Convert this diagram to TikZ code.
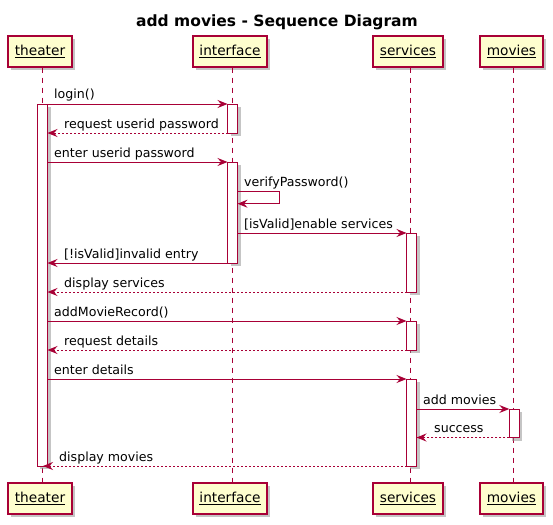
\documentclass[tikz,border=0pt]{standalone}
\usepackage{fontspec}
\setmainfont{DejaVu Sans}
\usetikzlibrary{arrows.meta,shadows}
\definecolor{pu}{HTML}{A80036}
\definecolor{pfill}{HTML}{FEFECE}
\begin{document}
\begin{tikzpicture}[x=1pt,y=-1pt,
  shad/.style={drop shadow={shadow xshift=3pt,shadow yshift=-3pt,fill=black!45,opacity=0.5}},
  part/.style={draw=pu,line width=1.2pt,fill=pfill,inner sep=0pt,minimum height=31pt,shad,
    font=\fontsize{13.7}{16}\selectfont},
  act/.style={draw=pu,line width=1pt,fill=white,shad},
  life/.style={draw=pu,line width=1pt,dash pattern=on 5pt off 5pt},
  msg/.style={draw=pu,line width=1pt,-{Stealth[length=10pt,width=8pt,inset=3.5pt]}},
  ret/.style={msg,dash pattern=on 2pt off 2pt},
  lbl/.style={font=\fontsize{12.6}{15}\selectfont,anchor=base west,inner sep=0pt},
  ttl/.style={font=\bfseries\fontsize{15.5}{18}\selectfont,anchor=base,inner sep=0pt}]
\useasboundingbox (0,0) rectangle (553,524);
\fill[white] (0,0) rectangle (553,524);
\node[ttl] (title) at (277,26.5) {add movies - Sequence Diagram};
% participants
\node[part,minimum width=64pt] (tT) at (40,51.5) {\underline{theater}};
\node[part,minimum width=74pt] (tI) at (230,51.5) {\underline{interface}};
\node[part,minimum width=70pt] (tS) at (408,51.5) {\underline{services}};
\node[part,minimum width=63pt] (tM) at (511.5,51.5) {\underline{movies}};
\node[part,minimum width=64pt] (bT) at (40,498.5) {\underline{theater}};
\node[part,minimum width=74pt] (bI) at (230,498.5) {\underline{interface}};
\node[part,minimum width=70pt] (bS) at (408,498.5) {\underline{services}};
\node[part,minimum width=63pt] (bM) at (511.5,498.5) {\underline{movies}};
% lifelines
\draw[life] ([xshift=2pt]tT.south) -- ([xshift=2pt]bT.north);
\draw[life] ([xshift=2pt]tI.south) -- ([xshift=2pt]bI.north);
\draw[life] ([xshift=2pt]tS.south) -- ([xshift=2pt]bS.north);
\draw[life] ([xshift=2pt]tM.south) -- ([xshift=2pt]bM.north);
% activations
\draw[act] (37,104) rectangle (47.5,466);
\draw[act] (227.5,104) rectangle (237.5,133);
\draw[act] (227.5,162) rectangle (237.5,263);
\draw[act] (406.5,233) rectangle (416.5,292);
\draw[act] (406.5,321) rectangle (416.5,350);
\draw[act] (406.5,379) rectangle (416.5,466);
\draw[act] (509.3,409) rectangle (519.3,437.5);
% messages
\draw[msg] (47.5,104) -- (227.5,104);
\node[lbl] (l1) at (54,99) {login()};
\draw[ret] (227.5,133) -- (47.5,133);
\node[lbl] (l2) at (64,128) {request userid password};
\draw[msg] (47.5,162) -- (227.5,162);
\node[lbl] (l3) at (54,157) {enter userid password};
\draw[msg] (237.5,191.7) -- (279,191.7) -- (279,203.7) -- (237.5,203.7);
\node[lbl] (l4) at (244,186.5) {verifyPassword()};
\draw[msg] (237.5,233) -- (406.5,233);
\node[lbl] (l5) at (244,228) {[isValid]enable services};
\draw[msg] (227.5,263) -- (47.5,263);
\node[lbl] (l6) at (64,258) {[!isValid]invalid entry};
\draw[ret] (406.5,292) -- (47.5,292);
\node[lbl] (l7) at (64,287) {display services};
\draw[msg] (47.5,321) -- (406.5,321);
\node[lbl] (l8) at (54,316) {addMovieRecord()};
\draw[ret] (406.5,350) -- (47.5,350);
\node[lbl] (l9) at (64,345) {request details};
\draw[msg] (47.5,379) -- (406.5,379);
\node[lbl] (l10) at (54,374) {enter details};
\draw[msg] (416.5,409) -- (509.3,409);
\node[lbl] (l11) at (423,404) {add movies};
\draw[ret] (509.3,437.5) -- (416.5,437.5);
\node[lbl] (l12) at (434,432.5) {success};
\draw[ret] (406.5,466) -- (43,466);
\node[lbl] (l13) at (59,461) {display movies};
\end{tikzpicture}
\end{document}
